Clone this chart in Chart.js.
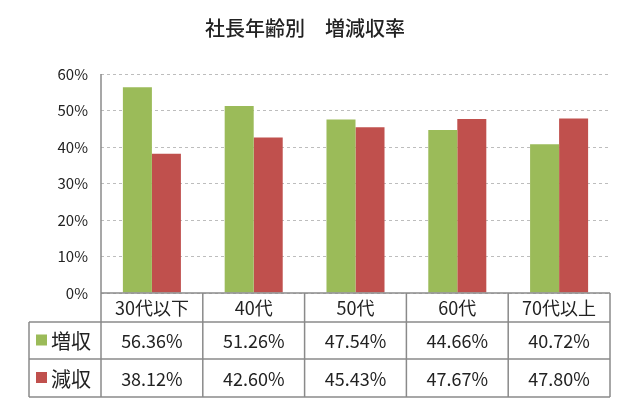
<!DOCTYPE html>
<html><head><meta charset="utf-8">
<script src="https://cdn.jsdelivr.net/npm/chart.js@4"></script>
<style>html,body{margin:0;padding:0;background:#fff}#w{width:620px;height:415px}</style>
</head><body><div id="w"><canvas id="c"></canvas></div>
<script>
const categories = ['30代以下','40代','50代','60代','70代以上'];
const increase = [56.36, 51.26, 47.54, 44.66, 40.72];
const decrease = [38.12, 42.60, 45.43, 47.67, 47.80];
const seriesNames = ['増収','減収'];
const colors = ['#9BBB59','#C0504D'];
const FONT = '"Noto Sans CJK JP", "Noto Sans", sans-serif';

const tablePlugin = {
  id: 'tbl',
  afterDraw(chart) {
    const ctx = chart.ctx, x = chart.scales.x, a = chart.chartArea;
    const top = a.bottom, r1 = top + 29, r2 = r1 + 37, r3 = r2 + 38, left = 29;
    ctx.save();
    ctx.strokeStyle = '#8a8a8a'; ctx.lineWidth = 1.5;
    ctx.beginPath();
    ctx.moveTo(a.left, top); ctx.lineTo(a.right, top);
    ctx.moveTo(left, r1); ctx.lineTo(a.right, r1);
    ctx.moveTo(left, r2); ctx.lineTo(a.right, r2);
    ctx.moveTo(left, r3); ctx.lineTo(a.right, r3);
    ctx.moveTo(left, r1); ctx.lineTo(left, r3);
    const step = (a.right - a.left) / categories.length;
    for (let i = 0; i <= categories.length; i++) {
      const xx = a.left + step * i;
      ctx.moveTo(xx, i === 0 ? a.top : top); ctx.lineTo(xx, r3);
    }
    ctx.stroke();
    ctx.fillStyle = '#222'; ctx.textAlign = 'center'; ctx.textBaseline = 'middle';
    ctx.font = '18px ' + FONT;
    categories.forEach((c, i) => {
      const cx = x.getPixelForValue(i);
      ctx.fillText(c, cx, (top + r1) / 2 + 1);
      ctx.fillText(increase[i].toFixed(2) + '%', cx, (r1 + r2) / 2 + 1);
      ctx.fillText(decrease[i].toFixed(2) + '%', cx, (r2 + r3) / 2 + 1);
    });
    [[r1, r2], [r2, r3]].forEach(([y0, y1], k) => {
      const cy = (y0 + y1) / 2;
      ctx.fillStyle = colors[k]; ctx.fillRect(36, cy - 6, 11, 11);
      ctx.fillStyle = '#222'; ctx.textAlign = 'left'; ctx.font = '20px ' + FONT;
      ctx.fillText(seriesNames[k], 51, cy + 1);
    });
    ctx.restore();
  }
};

new Chart(document.getElementById('c'), {
  type: 'bar',
  data: { labels: categories, datasets: [
    { label: seriesNames[0], data: increase, backgroundColor: colors[0] },
    { label: seriesNames[1], data: decrease, backgroundColor: colors[1] }
  ]},
  options: {
    responsive: true, maintainAspectRatio: false, animation: false,
    layout: { padding: { top: 0, right: 10, bottom: 122, left: 0 } },
    datasets: { bar: { categoryPercentage: 0.57, barPercentage: 1 } },
    plugins: {
      legend: { display: false }, tooltip: { enabled: false },
      title: { display: true, text: '社長年齢別　増減収率', color: '#222',
        font: { family: FONT, size: 20, weight: '500' }, padding: { top: 16, bottom: 34 } }
    },
    scales: {
      x: { display: false },
      y: { min: 0, max: 60,
        afterFit(s) { s.width = 101; },
        border: { display: false, dash: [3,3] },
        grid: { color: '#bdbdbd', drawTicks: false, lineWidth: 1 },
        ticks: { stepSize: 10, padding: 13, color: '#222', font: { family: FONT, size: 15 }, callback: v => v + '%' }
      }
    }
  },
  plugins: [tablePlugin]
});
</script></body></html>
